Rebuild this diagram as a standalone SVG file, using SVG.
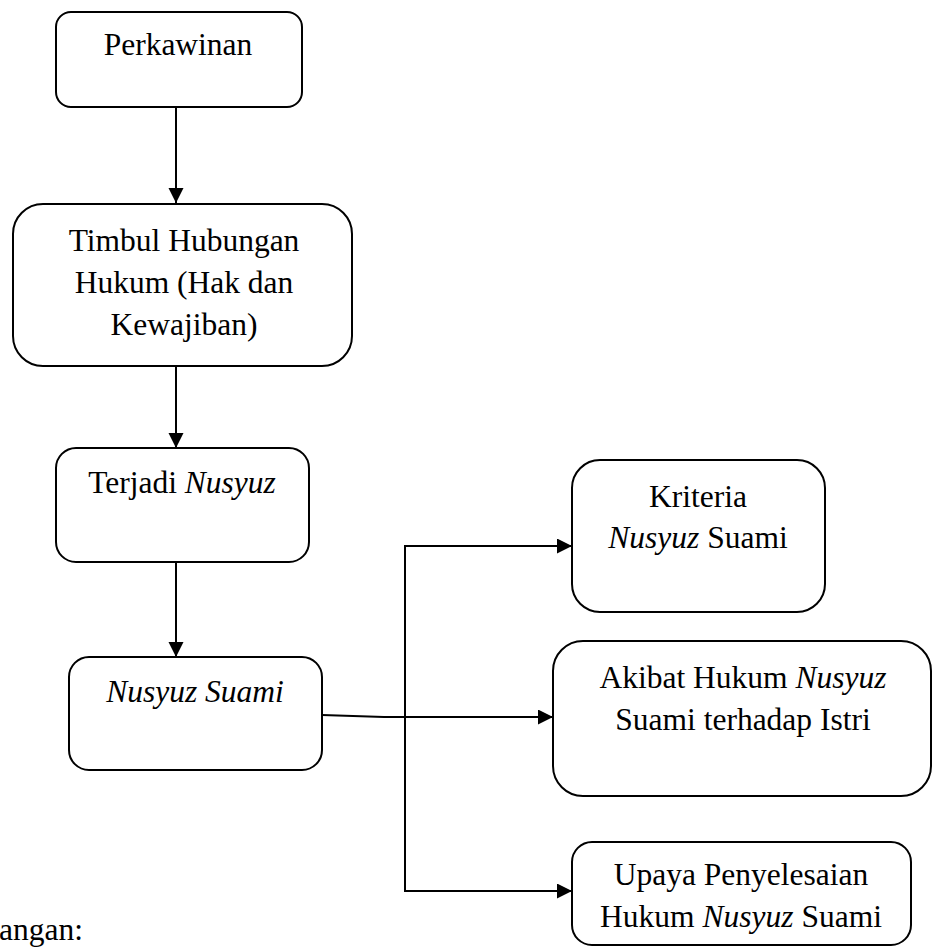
<svg xmlns="http://www.w3.org/2000/svg" width="933" height="947" viewBox="0 0 933 947">
<style>
.box{fill:#fff;stroke:#000;stroke-width:2}
text{font-family:'Liberation Serif','Times New Roman','DejaVu Serif',serif;font-size:31.5px;fill:#000}
.t{text-anchor:middle}
.c{fill:none;stroke:#000;stroke-width:2}
</style>
<defs>
<marker id="ah" markerUnits="userSpaceOnUse" markerWidth="16" markerHeight="16" refX="15" refY="7.5" orient="auto">
<path d="M0,0 L15,7.5 L0,15 Z" fill="#000"/>
</marker>
</defs>
<rect width="933" height="947" fill="#fff"/>
<g id="connectors">
<line class="c" x1="176" y1="107" x2="176" y2="203" marker-end="url(#ah)"/>
<line class="c" x1="176" y1="366" x2="176" y2="448" marker-end="url(#ah)"/>
<line class="c" x1="176" y1="562" x2="176" y2="657" marker-end="url(#ah)"/>
<polyline class="c" points="322,715 384,717 553,717" marker-end="url(#ah)"/>
<line class="c" x1="405" y1="546" x2="405" y2="891"/>
<line class="c" x1="404" y1="546" x2="572" y2="546" marker-end="url(#ah)"/>
<line class="c" x1="404" y1="891" x2="572" y2="891" marker-end="url(#ah)"/>
</g>
<g id="perkawinan">
<rect class="box" x="56" y="12" width="246" height="95" rx="15"/>
<text class="t" x="178" y="55" font-family="Liberation Serif, serif">Perkawinan</text>
</g>
<g id="timbul">
<rect class="box" x="13" y="204" width="339" height="162" rx="30"/>
<text class="t" x="184" y="251">Timbul Hubungan</text>
<text class="t" x="184" y="293">Hukum (Hak dan</text>
<text class="t" x="184" y="335">Kewajiban)</text>
</g>
<g id="terjadi">
<rect class="box" x="56" y="448" width="253" height="114" rx="20"/>
<text class="t" x="182" y="493">Terjadi <tspan font-style="italic">Nusyuz</tspan></text>
</g>
<g id="nusyuz-suami">
<rect class="box" x="69" y="657" width="253" height="113" rx="20"/>
<text class="t" x="195" y="702" font-style="italic">Nusyuz Suami</text>
</g>
<g id="kriteria">
<rect class="box" x="572" y="460" width="253" height="152" rx="28"/>
<text class="t" x="698" y="507">Kriteria</text>
<text class="t" x="698" y="548"><tspan font-style="italic">Nusyuz</tspan> Suami</text>
</g>
<g id="akibat">
<rect class="box" x="553" y="641" width="378" height="155" rx="30"/>
<text class="t" x="743" y="688">Akibat Hukum <tspan font-style="italic">Nusyuz</tspan></text>
<text class="t" x="743" y="730">Suami terhadap Istri</text>
</g>
<g id="upaya">
<rect class="box" x="572" y="842" width="339" height="103" rx="20"/>
<text class="t" x="741" y="885">Upaya Penyelesaian</text>
<text class="t" x="741" y="927">Hukum <tspan font-style="italic">Nusyuz</tspan> Suami</text>
</g>
<text x="-1" y="940">angan:</text>
</svg>
